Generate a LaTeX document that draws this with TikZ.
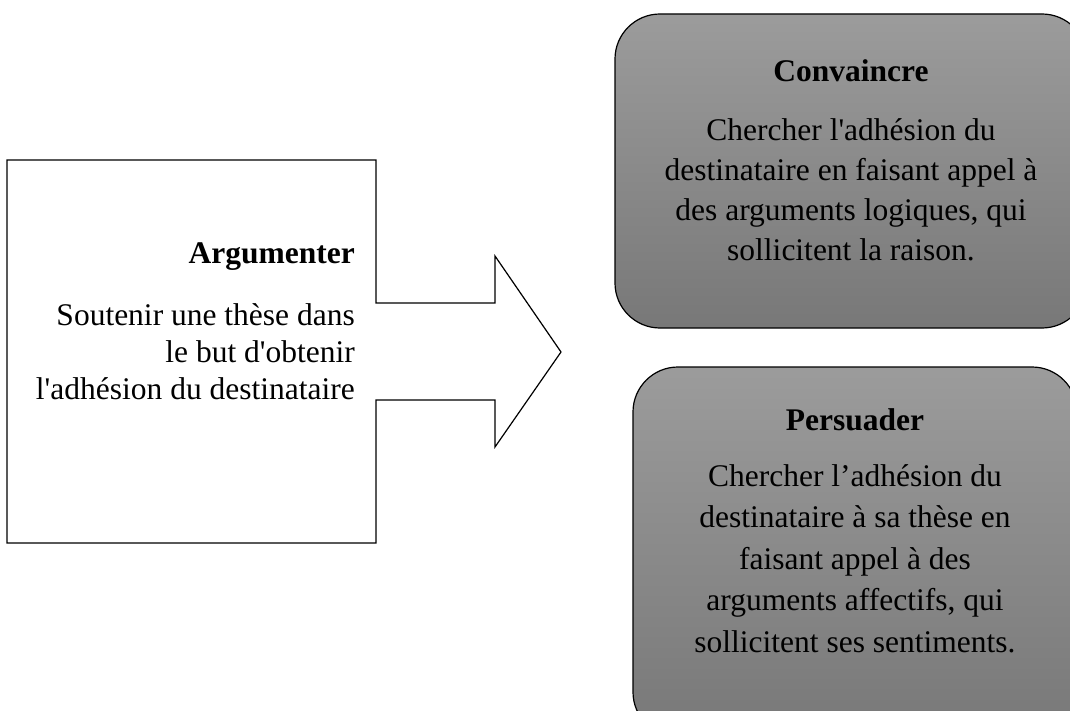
\documentclass[tikz,border=0pt]{standalone}
\usepackage{fontspec}
\setmainfont{Liberation Serif}[Ligatures=TeXOff]
\usetikzlibrary{positioning}
\usetikzlibrary{calc}
\definecolor{box top}{gray}{0.61}
\definecolor{box bottom}{gray}{0.47}
\tikzset{
    % Grey rounded panel with a soft vertical gradient
    idea box/.style={
        draw, line width=1.2pt, rectangle, rounded corners=45pt, inner sep=0,
        top color=box top, bottom color=box bottom},
%
    % Bold heading inside a panel
    box title/.style={font=\fontsize{31.5}{38}\selectfont\bfseries, inner sep=0},
%
    % Body text inside a panel
    box text/.style={align=center, inner sep=0,
        font=\fontsize{31.5}{40}\selectfont}}

\begin{document}
\begin{tikzpicture}[x=1pt, y=-1pt]

\useasboundingbox (0,0) rectangle (1070,711);

% Box with the block arrow coming out of its right side
\draw[line width=1.2pt, fill=white]
    (7,160) -- (376,160) -- (376,303) -- (495,303) -- (495,256)
    -- (561,352) -- (495,447) -- (495,400) -- (376,400)
    -- (376,543) -- (7,543) -- cycle;

\path
    node[anchor=base east, inner sep=0,
        font=\fontsize{31.5}{37}\selectfont\bfseries]
        (argumenter title) at (355,263) {Argumenter}

    node[align=right, inner sep=0,
        font=\fontsize{31.5}{37}\selectfont,
        below left=33pt and 0pt of argumenter title.south east]
        (argumenter text)
        {Soutenir une thèse dans\\le but d'obtenir\\l'adhésion du destinataire};

% The two ways of arguing
\path
    node[idea box, minimum width=472pt, minimum height=314pt]
        (convaincre) at (851,171) {}
    node[box title, below=46pt of convaincre.north] (convaincre title)
        {Convaincre}
    node[box text, below=36pt of convaincre title] (convaincre text)
        {Chercher l'adhésion du\\destinataire en faisant appel à\\des
         arguments logiques, qui\\sollicitent la raison.};

\path
    node[idea box, minimum width=444pt, minimum height=370pt]
        (persuader) at (855,552) {}
    node[box title, below=42pt of persuader.north] (persuader title)
        {Persuader}
    node[box text, font=\fontsize{31.5}{41.5}\selectfont,
        below=33pt of persuader title] (persuader text)
        {Chercher l’adhésion du\\destinataire à sa thèse en\\faisant appel
         à des\\arguments affectifs, qui\\sollicitent ses sentiments.};

\end{tikzpicture}
\end{document}
